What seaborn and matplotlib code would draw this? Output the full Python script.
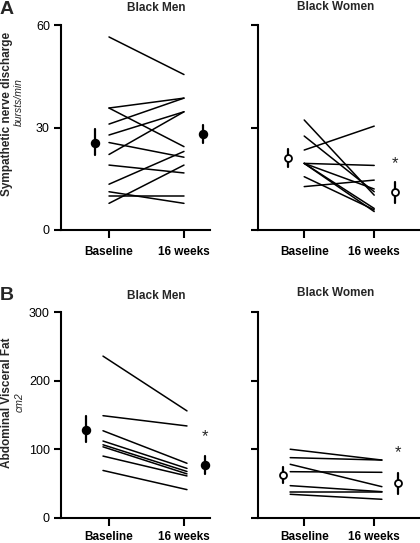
import pandas as pd
import matplotlib
matplotlib.use("Agg")
import matplotlib.pyplot as plt
import seaborn as sns

sns.set_theme(style="ticks")
plt.rcParams["font.family"] = ["Liberation Sans", "DejaVu Sans"]

# individual subjects, baseline vs 16 weeks
msna_men_base = [56.5, 35.7, 35.7, 31.0, 27.8, 25.6, 22.1, 19.0, 13.4, 11.2, 10.0, 7.8]
msna_men_16wk = [45.5, 38.6, 24.4, 38.6, 34.6, 21.3, 34.6, 16.7, 23.0, 7.8, 10.0, 19.0]
msna_women_base = [32.2, 27.5, 23.4, 19.5, 19.5, 19.5, 19.5, 15.6, 12.7]
msna_women_16wk = [10.2, 11.2, 30.4, 18.9, 12.0, 6.3, 5.4, 5.9, 14.6]
fat_men_base = [236, 149, 127, 112, 106.5, 103.5, 90, 69]
fat_men_16wk = [156, 134, 79.5, 72, 67.5, 64, 61, 41]
fat_women_base = [100, 87.7, 78, 67.2, 46.8, 38, 34.2]
fat_women_16wk = [84.2, 84.2, 45.3, 66.3, 38, 38, 26.9]

# group mean with error bar (low, high)
msna_men_mean = [25.6, 28.0]
msna_men_lo = [22.0, 25.6]
msna_men_hi = [29.6, 30.7]
msna_women_mean = [21.0, 11.0]
msna_women_lo = [18.5, 7.8]
msna_women_hi = [23.7, 14.1]
fat_men_mean = [128, 77]
fat_men_lo = [111, 64]
fat_men_hi = [149, 90]
fat_women_mean = [62, 51]
fat_women_lo = [50, 34]
fat_women_hi = [74.5, 66]

time_labels = ["Baseline", "16 weeks"]
titles = ["Black Men", "Black Women"]

W, H = 420, 543
fig = plt.figure(figsize=(W / 100, H / 100), dpi=100)


def box(x0, x1, ytop, ybot):
    return [x0 / W, 1 - ybot / H, (x1 - x0) / W, (ybot - ytop) / H]


panels = [
    # rect, xlim, line x, mean x, base, 16wk, mean, lo, hi, ylim, yticks, labels?, star y, label pad
    (box(61, 210, 25, 230), (0.36, 2.347), (1.0, 2.0), (0.81, 2.25),
     msna_men_base, msna_men_16wk, msna_men_mean, msna_men_lo, msna_men_hi,
     (0, 60), [0, 30, 60], True, None, 5.5),
    (box(258, 419, 25, 230), (0.34, 2.64), (1.0, 2.0), (0.77, 2.29),
     msna_women_base, msna_women_16wk, msna_women_mean, msna_women_lo, msna_women_hi,
     (0, 60), [0, 30, 60], False, 19.5, 5.5),
    (box(61, 210, 312.3, 517.7), (0.36, 2.347), (0.92, 2.04), (0.69, 2.28),
     fat_men_base, fat_men_16wk, fat_men_mean, fat_men_lo, fat_men_hi,
     (0, 300), [0, 100, 200, 300], True, 118, 3.5),
    (box(258, 419, 312.3, 517.7), (0.34, 2.64), (0.8, 2.11), (0.70, 2.34),
     fat_women_base, fat_women_16wk, fat_women_mean, fat_women_lo, fat_women_hi,
     (0, 300), [0, 100, 200, 300], False, 95, 3.5),
]

for i, (rect, xlim, lx, mx, base, wk, mean, lo, hi, ylim, yt, show_y, star, pad) in enumerate(panels):
    ax = fig.add_axes(rect)
    n = len(base)
    df = pd.DataFrame({
        "subject": list(range(n)) * 2,
        "x": [lx[0]] * n + [lx[1]] * n,
        "value": list(base) + list(wk),
    })
    sns.lineplot(data=df, x="x", y="value", units="subject", estimator=None,
                 color="black", lw=1.1, ax=ax, legend=False)
    filled = i % 2 == 0
    for j in range(2):
        ax.plot([mx[j], mx[j]], [lo[j], hi[j]], color="black", lw=1.6, zorder=3)
        ax.plot(mx[j], mean[j], "o", ms=5.5 if filled else 5,
                mfc="black" if filled else "white", mec="black", mew=1.3, zorder=4)
    if star is not None:
        ax.text(mx[1], star, "*", ha="center", va="center", fontsize=12)
    ax.set_xlim(*xlim)
    ax.set_ylim(*ylim)
    ax.set_xticks([1, 2])
    ax.set_xticklabels(time_labels, fontweight="bold", fontsize=8.5)
    ax.set_yticks(yt)
    if show_y:
        ax.set_yticklabels([str(v) for v in yt], fontsize=9)
    else:
        ax.set_yticklabels([])
    ax.set_xlabel("")
    ax.set_ylabel("")
    sns.despine(ax=ax)
    for s in ["left", "bottom"]:
        ax.spines[s].set_linewidth(1.5)
        ax.spines[s].set_color("black")
    ax.tick_params(axis="x", length=6, width=1.5, pad=pad, colors="black")
    ax.tick_params(axis="y", length=5, width=1.5, pad=3, colors="black")
    ax.set_facecolor("white")

# titles
title_kw = dict(ha="center", va="center", fontsize=8.5, fontweight="bold")
fig.text(156 / W, 1 - 8 / H, titles[0], **title_kw)
fig.text(336 / W, 1 - 7 / H, titles[1], **title_kw)
fig.text(156 / W, 1 - 296 / H, titles[0], **title_kw)
fig.text(336 / W, 1 - 293 / H, titles[1], **title_kw)

# panel letters
fig.text(7 / W, 1 - 9 / H, "A", ha="center", va="center", fontsize=14, fontweight="bold")
fig.text(7 / W, 1 - 295 / H, "B", ha="center", va="center", fontsize=14, fontweight="bold")

# y labels
ylab_kw = dict(rotation=90, ha="center", va="center", fontsize=8.5, fontweight="bold")
unit_kw = dict(rotation=90, ha="center", va="center", fontsize=7.5, style="italic")
fig.text(7 / W, 1 - 114 / H, "Sympathetic nerve discharge", **ylab_kw)
fig.text(18.5 / W, 1 - 102 / H, "bursts/min", **unit_kw)
fig.text(7 / W, 1 - 403 / H, "Abdominal Visceral Fat", **ylab_kw)
fig.text(20 / W, 1 - 402 / H, "cm2", **unit_kw)

fig.savefig("out.png", dpi=100, facecolor="white")
